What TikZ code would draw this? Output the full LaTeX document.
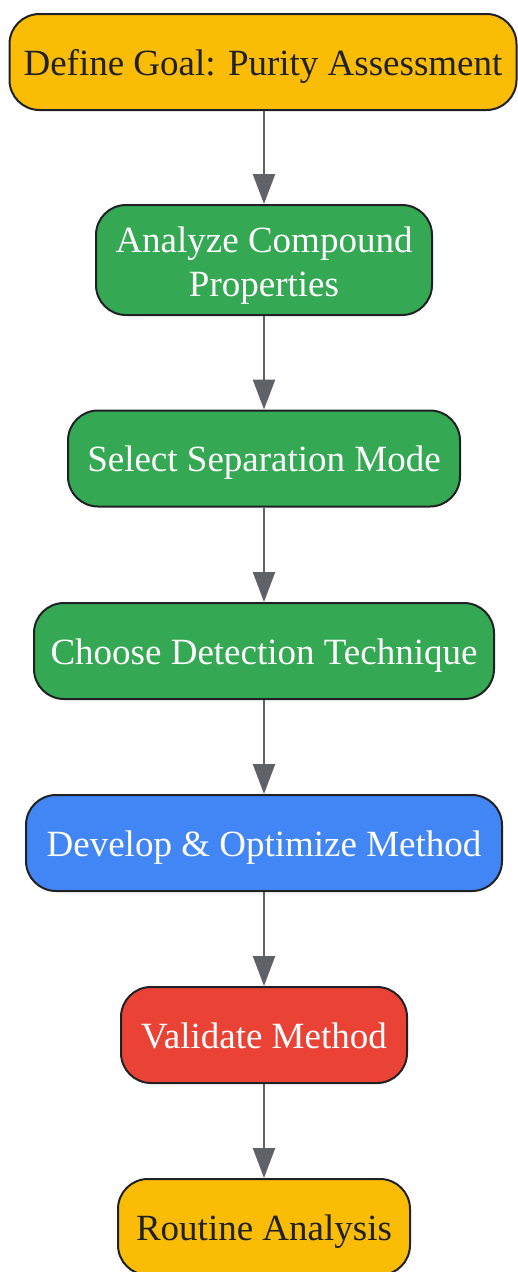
\documentclass[tikz,border=0pt]{standalone}
\usepackage{fontspec}
\setmainfont{Liberation Serif}
\usetikzlibrary{arrows.meta}
\definecolor{gyellow}{HTML}{FBBC05}
\definecolor{ggreen}{HTML}{34A853}
\definecolor{gblue}{HTML}{4285F4}
\definecolor{gred}{HTML}{EA4335}
\definecolor{gdark}{HTML}{202124}
\definecolor{garrow}{HTML}{5F6368}
\tikzset{
  box/.style={draw=gdark, line width=2pt, rounded corners=30pt, align=center,
    font=\fontsize{37}{44}\selectfont, inner sep=0pt, minimum height=96pt,
    text height=34pt, text depth=8pt},
  yel/.style={box, fill=gyellow, text=gdark},
  grn/.style={box, fill=ggreen, text=white},
  blu/.style={box, fill=gblue, text=white},
  rd/.style={box, fill=gred, text=white},
  link/.style={draw=garrow, line width=2.5pt, -{Triangle[width=22pt,length=30pt]}}
}
\begin{document}
\begin{tikzpicture}[x=1pt,y=-1pt]
\useasboundingbox (0,0) rectangle (517,1272);
\node[yel, minimum width=507pt] (n1) at (263,62) {Define Goal: Purity Assessment};
\node[grn, minimum width=336pt, minimum height=110pt, text height=80pt, text depth=8pt] (n2) at (264,260) {Analyze Compound\\Properties};
\node[grn, minimum width=392pt] (n3) at (264,458.5) {Select Separation Mode};
\node[grn, minimum width=460pt] (n4) at (264,651) {Choose Detection Technique};
\node[blu, minimum width=476pt] (n5) at (264,843) {Develop \& Optimize Method};
\node[rd, minimum width=286pt] (n6) at (264,1035) {Validate Method};
\node[yel, minimum width=292pt] (n7) at (264,1227) {Routine Analysis};
\draw[link] (n1.south -| n2.north) -- (n2.north);
\draw[link] (n2) -- (n3);
\draw[link] (n3) -- (n4);
\draw[link] (n4) -- (n5);
\draw[link] (n5) -- (n6);
\draw[link] (n6) -- (n7);
\end{tikzpicture}
\end{document}
